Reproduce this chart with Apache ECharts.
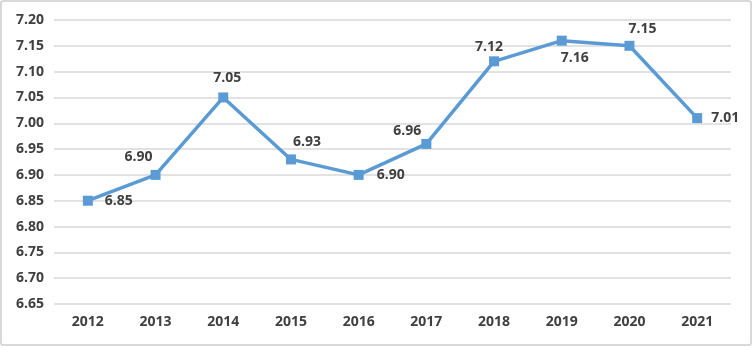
<!DOCTYPE html>
<html>
<head>
<meta charset="utf-8">
<script src="https://cdn.jsdelivr.net/npm/echarts@6/dist/echarts.min.js"></script>
<style>
  html, body { margin: 0; padding: 0; background: #fff; }
  #frame { position: absolute; left: 0; top: 0; width: 748px; height: 342px; border: 2px solid #d9d9d9; border-radius: 3px; }
  #chart { position: absolute; left: -2px; top: -2px; width: 752px; height: 346px; }
</style>
</head>
<body>
<div id="frame"><div id="chart"></div></div>
<script>
// Annual values, 2012–2021
const years = ['2012', '2013', '2014', '2015', '2016', '2017', '2018', '2019', '2020', '2021'];
const values = [6.85, 6.90, 7.05, 6.93, 6.90, 6.96, 7.12, 7.16, 7.15, 7.01];

// Value axis range
const yMin = 6.65;
const yMax = 7.20;
const yStep = 0.05;

// Where each value label sits relative to its marker (px)
const labelOffsets = [
  [31, 0], [-17, -18], [4, -19], [16, -17], [32, 0],
  [-19, -13], [-5, -14], [13, 17], [13, -17], [28, 0]
];

const chart = echarts.init(document.getElementById('chart'));
const textColor = '#404040';
const font = '"Open Sans", "Noto Sans", sans-serif';

chart.setOption({
  animation: false,
  grid: { left: 54, right: 21, top: 20, bottom: 42 },
  xAxis: {
    type: 'category',
    data: years,
    boundaryGap: true,
    axisLine: { show: false },
    axisTick: { show: false },
    axisLabel: { color: textColor, fontFamily: font, fontWeight: 'bold', fontSize: 14, margin: 11 }
  },
  yAxis: {
    type: 'value',
    min: yMin,
    max: yMax,
    interval: yStep,
    axisLine: { show: false },
    axisTick: { show: false },
    axisLabel: {
      color: textColor, fontFamily: font, fontWeight: 'bold', fontSize: 14, margin: 10,
      formatter: v => v.toFixed(2)
    },
    splitLine: { lineStyle: { color: '#d9d9d9', width: 1.5 } }
  },
  series: [{
    type: 'line',
    data: values.map((v, i) => ({
      value: v,
      label: { offset: labelOffsets[i] }
    })),
    symbol: 'rect',
    symbolSize: 10,
    lineStyle: { color: '#5b9bd5', width: 3.5 },
    itemStyle: { color: '#5b9bd5' },
    label: {
      show: true,
      position: 'inside',
      align: 'center',
      verticalAlign: 'middle',
      color: textColor,
      fontFamily: font,
      fontWeight: 'bold',
      fontSize: 14,
      formatter: p => p.value.toFixed(2)
    }
  }]
});
</script>
</body>
</html>
